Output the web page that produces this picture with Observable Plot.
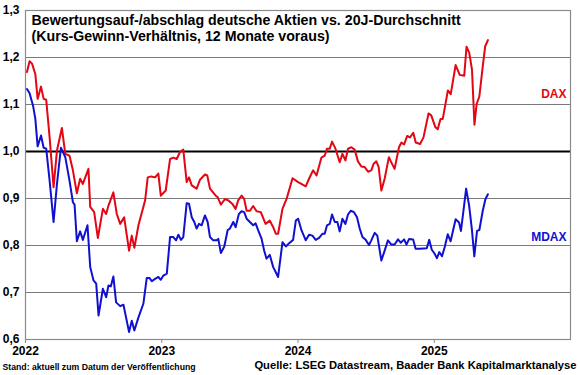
<!DOCTYPE html>
<html>
<head>
<meta charset="utf-8">
<script src="https://cdn.jsdelivr.net/npm/d3@7"></script>
<script src="https://cdn.jsdelivr.net/npm/@observablehq/plot@0.6"></script>
<style>
  html, body { margin: 0; padding: 0; background: #fff; }
  #chart svg { display: block; }
</style>
</head>
<body>
<div id="chart"></div>
<script>
const title = "Bewertungsauf-/abschlag deutsche Aktien vs. 20J-Durchschnitt\n(Kurs-Gewinn-Verhältnis, 12 Monate voraus)";
const footLeft = "Stand: aktuell zum Datum der Veröffentlichung";
const footRight = "Quelle: LSEG Datastream, Baader Bank Kapitalmarktanalyse";
const yTicks = [0.6, 0.7, 0.8, 0.9, 1.0, 1.1, 1.2, 1.3];
const xTicks = [2022, 2023, 2024, 2025];
const seriesNames = ["DAX", "MDAX"];
const seriesColors = ["#e30613", "#1010d0"];
const labelY = [1.123, 0.818];

const daxT = [2022.011,2022.030,2022.048,2022.072,2022.089,2022.114,2022.133,2022.152,2022.177,2022.206,2022.231,2022.267,2022.292,2022.323,2022.348,2022.377,2022.401,2022.421,2022.462,2022.475,2022.504,2022.531,2022.568,2022.592,2022.609,2022.645,2022.670,2022.695,2022.724,2022.760,2022.780,2022.799,2022.829,2022.878,2022.897,2022.922,2022.951,2022.975,2022.993,2023.029,2023.061,2023.085,2023.110,2023.134,2023.158,2023.183,2023.200,2023.220,2023.256,2023.281,2023.317,2023.334,2023.354,2023.396,2023.410,2023.434,2023.464,2023.488,2023.517,2023.542,2023.561,2023.586,2023.605,2023.623,2023.647,2023.671,2023.696,2023.727,2023.762,2023.793,2023.818,2023.837,2023.854,2023.886,2023.916,2023.960,2024.001,2024.057,2024.081,2024.111,2024.136,2024.172,2024.196,2024.213,2024.233,2024.250,2024.275,2024.306,2024.326,2024.348,2024.367,2024.392,2024.416,2024.440,2024.465,2024.489,2024.514,2024.538,2024.555,2024.575,2024.592,2024.612,2024.636,2024.667,2024.685,2024.709,2024.741,2024.759,2024.779,2024.801,2024.822,2024.846,2024.864,2024.896,2024.921,2024.958,2024.978,2025.008,2025.025,2025.046,2025.062,2025.078,2025.100,2025.121,2025.157,2025.187,2025.220,2025.237,2025.257,2025.277,2025.295,2025.311,2025.331,2025.356,2025.374,2025.394];
const daxV = [1.169,1.192,1.187,1.165,1.112,1.138,1.112,1.110,1.030,0.924,1.002,1.050,0.995,0.991,0.960,0.911,0.942,0.931,0.963,0.882,0.871,0.816,0.878,0.867,0.885,0.913,0.867,0.846,0.860,0.789,0.821,0.795,0.843,0.896,0.945,0.947,0.945,0.953,0.906,0.917,0.984,0.987,0.984,0.999,1.004,0.935,0.945,0.928,0.921,0.940,0.951,0.949,0.921,0.906,0.903,0.887,0.899,0.896,0.889,0.878,0.896,0.906,0.899,0.874,0.874,0.884,0.873,0.871,0.846,0.853,0.839,0.825,0.825,0.878,0.899,0.943,0.935,0.926,0.942,0.960,0.949,0.987,0.991,1.006,1.006,1.021,1.006,0.977,0.995,0.981,1.006,1.009,1.004,0.979,0.968,0.967,0.957,0.960,0.974,0.979,0.967,0.917,0.942,0.988,0.977,0.963,1.009,1.019,1.015,1.033,1.030,1.040,1.019,1.016,1.030,1.081,1.077,1.052,1.047,1.069,1.069,1.094,1.130,1.122,1.184,1.163,1.161,1.223,1.210,1.174,1.057,1.101,1.117,1.181,1.224,1.237];

const mdaxT = [2022.011,2022.030,2022.055,2022.072,2022.089,2022.114,2022.133,2022.152,2022.177,2022.206,2022.231,2022.260,2022.292,2022.323,2022.348,2022.360,2022.377,2022.401,2022.421,2022.455,2022.475,2022.499,2022.519,2022.536,2022.568,2022.592,2022.609,2022.626,2022.645,2022.665,2022.695,2022.719,2022.738,2022.760,2022.780,2022.799,2022.829,2022.865,2022.890,2022.909,2022.927,2022.951,2022.975,2022.993,2023.012,2023.037,2023.061,2023.085,2023.105,2023.122,2023.141,2023.158,2023.183,2023.200,2023.220,2023.239,2023.256,2023.273,2023.293,2023.317,2023.337,2023.354,2023.378,2023.403,2023.415,2023.434,2023.459,2023.484,2023.500,2023.525,2023.542,2023.566,2023.586,2023.605,2023.623,2023.647,2023.671,2023.689,2023.708,2023.733,2023.752,2023.769,2023.793,2023.818,2023.837,2023.854,2023.886,2023.911,2023.935,2023.964,2023.984,2024.001,2024.026,2024.057,2024.081,2024.106,2024.130,2024.155,2024.179,2024.196,2024.213,2024.233,2024.250,2024.270,2024.289,2024.306,2024.326,2024.348,2024.367,2024.387,2024.411,2024.433,2024.453,2024.473,2024.497,2024.521,2024.538,2024.563,2024.582,2024.612,2024.636,2024.660,2024.685,2024.709,2024.734,2024.754,2024.779,2024.796,2024.816,2024.845,2024.863,2024.895,2024.945,2024.963,2024.982,2025.002,2025.020,2025.037,2025.057,2025.077,2025.099,2025.120,2025.157,2025.182,2025.196,2025.219,2025.234,2025.256,2025.276,2025.294,2025.314,2025.331,2025.356,2025.376,2025.394];
const mdaxV = [1.133,1.124,1.098,1.070,1.011,1.034,1.008,1.006,0.938,0.850,0.931,1.008,0.988,0.938,0.892,0.887,0.809,0.830,0.812,0.843,0.754,0.726,0.719,0.651,0.708,0.690,0.715,0.713,0.734,0.679,0.671,0.674,0.647,0.616,0.640,0.619,0.647,0.676,0.731,0.731,0.724,0.729,0.733,0.727,0.736,0.740,0.818,0.818,0.811,0.823,0.812,0.818,0.890,0.889,0.860,0.850,0.836,0.846,0.843,0.864,0.850,0.818,0.811,0.811,0.814,0.784,0.798,0.833,0.836,0.850,0.839,0.867,0.873,0.871,0.857,0.850,0.843,0.847,0.832,0.814,0.789,0.772,0.780,0.754,0.743,0.733,0.807,0.798,0.805,0.812,0.853,0.857,0.832,0.811,0.823,0.821,0.812,0.816,0.825,0.825,0.843,0.846,0.866,0.850,0.850,0.830,0.857,0.846,0.866,0.874,0.871,0.860,0.836,0.818,0.812,0.801,0.811,0.827,0.821,0.768,0.789,0.811,0.802,0.802,0.813,0.806,0.813,0.802,0.814,0.813,0.793,0.793,0.794,0.812,0.791,0.783,0.773,0.786,0.777,0.797,0.824,0.809,0.856,0.849,0.831,0.885,0.921,0.885,0.835,0.777,0.831,0.833,0.874,0.899,0.909];

const dax = daxT.map((t, i) => ({t, v: daxV[i]}));
const mdax = mdaxT.map((t, i) => ({t, v: mdaxV[i]}));
const labels = seriesNames.map((name, i) => ({name, y: labelY[i], color: seriesColors[i]}));

const font = "'Liberation Sans', Arial, Helvetica, sans-serif";
const fmt = d => d.toFixed(1).replace(".", ",");

const chart = Plot.plot({
  width: 580,
  height: 375,
  marginLeft: 25,
  marginRight: 10,
  marginTop: 10,
  marginBottom: 36,
  style: {fontFamily: font, background: "#fff", color: "#000"},
  x: {type: "linear", domain: [2022, 2026]},
  y: {domain: [0.6, 1.3]},
  marks: [
    Plot.ruleY(yTicks, {stroke: "#7a7a7a", strokeWidth: 1}),
    Plot.ruleY([1.0], {stroke: "#000", strokeWidth: 2.2}),
    Plot.frame({stroke: "#8a8a8a", strokeWidth: 1.2}),
    Plot.axisY({ticks: yTicks, tickFormat: fmt, tickSize: 0, tickPadding: 6, fontSize: 12, fontWeight: "bold", label: null}),
    Plot.axisX({ticks: xTicks, tickFormat: d => String(d), tickSize: 4, tickPadding: 3, fontSize: 12, fontWeight: "bold", label: null, stroke: "#8a8a8a"}),
    Plot.line(dax, {x: "t", y: "v", stroke: seriesColors[0], strokeWidth: 2}),
    Plot.line(mdax, {x: "t", y: "v", stroke: seriesColors[1], strokeWidth: 2}),
    Plot.text(labels, {y: "y", text: "name", fill: "color", frameAnchor: "right", textAnchor: "end", dx: -4, fontSize: 12, fontWeight: "bold"}),
    Plot.text([title], {frameAnchor: "top-left", textAnchor: "start", lineAnchor: "top", dx: 6, dy: 3, fontSize: 14.2, fontWeight: "bold", lineHeight: 1.15}),
    Plot.text([footLeft], {frameAnchor: "bottom-left", textAnchor: "start", lineAnchor: "middle", dx: -23, dy: 28, fontSize: 8.7, fontWeight: "bold"}),
    Plot.text([footRight], {frameAnchor: "bottom-right", textAnchor: "end", lineAnchor: "middle", dx: 6, dy: 26, fontSize: 11.2, fontWeight: "bold"})
  ]
});
document.getElementById("chart").append(chart);
</script>
</body>
</html>
